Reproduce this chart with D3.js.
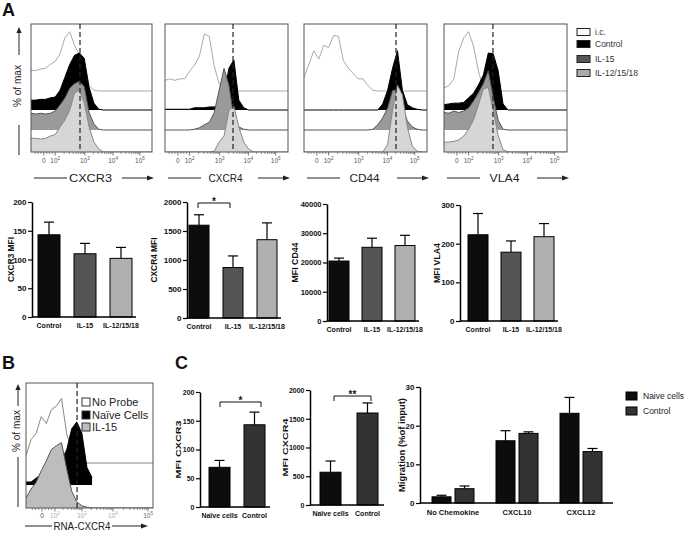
<!DOCTYPE html>
<html><head><meta charset="utf-8">
<script src="https://cdn.jsdelivr.net/npm/d3@7"></script>
<style>
body{margin:0;background:#fff}
svg{display:block}
text{font-family:"Liberation Sans",Arial,sans-serif}
</style>
</head><body>
<svg id="c" width="685" height="533"></svg>
<script>
// ================= DATA =================
// flow cytometry histograms: channel grid (0-1000) and % of max per channel
const channels = [0,40,80,120,160,200,240,280,320,360,400,440,480,520,560,600,640,680,720,760,800,840,880,920,960,1000];
const cxcr3Ic   = [27,27,29,30,35,39,49,70,78,60,47,25,7,1,0];
const cxcr3Ctrl = [13,13,14,14,16,17,26,43,60,72,75,68,30,9,1,0];
const cxcr3Il15 = [22,21,22,21,22,25,33,42,55,61,64,57,23,8,1,0];
const cxcr3Il12 = [18,18,17,18,21,23,33,42,55,78,81,65,33,13,4,0];
const cxcr4Ic   = [14,16,14,16,16,26,34,46,75,72,33,10,1,0];
const cxcr4Ctrl = [1,1,1,1,1,1,3,3,3,4,4,7,20,55,66,13,3,0];
const cxcr4Il15 = [0,0,0,0,0,0,1,3,7,10,23,52,81,59,16,4,1,0];
const cxcr4Il12 = [0,0,0,0,0,0,0,0,0,0,1,13,21,55,60,33,13,4,0];
const cd44Ic    = [18,35,53,42,60,57,73,72,40,30,23,16,16,7,1,0];
const cd44Ctrl  = [0,0,0,0,0,0,0,0,0,0,0,0,0,0,0,0,8,26,55,78,26,7,3,1,0];
const cd44Il15  = [0,0,0,0,0,0,0,0,0,0,0,0,0,0,1,7,16,29,52,53,31,12,4,1,0];
const cd44Il12  = [0,0,0,0,0,0,0,0,0,0,0,0,0,0,0,0,0,10,55,88,75,33,8,1,0];
const vla4Ic    = [4,7,16,52,70,78,59,26,4,0];
const vla4Ctrl  = [7,8,9,9,10,16,22,33,46,75,74,52,8,0];
const vla4Il15  = [23,22,25,23,25,29,38,49,61,78,43,13,1,0];
const vla4Il12  = [13,13,14,16,21,30,42,62,83,85,55,22,3,0];
const rnaNoProbe = [10,31,39,61,52,70,75,85,39,17,3,0];
const rnaNaive   = [4,4,9,14,16,22,26,33,46,74,83,68,23,10];
const rnaIl15    = [13,25,34,49,62,77,82,86,52,22,8,3,1,0];
const histTitles = ["CXCR3","CXCR4","CD44","VLA4"];
const gateChannels = [405,553,748,398];
const gateChannelB = 402;
const tickChannelsA = [105,200,445,678,900];
const tickChannelsB = [126,228,441,685,961];
const tickLabels = ["0","10^2","10^3","10^4","10^5"];
const legendA = ["i.c.","Control","IL-15","IL-12/15/18"];
const legendB = ["No Probe","Naïve Cells","IL-15"];

// bar charts panel A
const barCats = ["Control","IL-15","IL-12/15/18"];
const cxcr3Mfi = [143,110,102], cxcr3Sem = [22,18,19];
const cxcr4Mfi = [1600,870,1350], cxcr4Sem = [180,200,290];
const cd44Mfi  = [20500,25200,25800], cd44Sem = [1000,3100,3500];
const vla4Mfi  = [223,178,218], vla4Sem = [55,29,34];

// panel C
const cCats = ["Naïve cells","Control"];
const cCxcr3 = [69,143], cCxcr3Sem = [12,22];
const cCxcr4 = [570,1600], cCxcr4Sem = [195,175];
const migCats = ["No Chemokine","CXCL10","CXCL12"];
const migSeries = ["Naive cells","Control"];
const migNaive = [1.6,16.1,23.2], migNaiveSem = [0.4,2.6,4.1];
const migControl = [3.7,18.0,13.3], migControlSem = [0.7,0.4,0.8];

// ================= DRAWING =================
const svg = d3.select("#c");
const hScale = d3.scaleLinear().domain([0,100]).range([0,76]);
let clipN = 0;

function arrowUp(x, yTop, yBot){
  svg.append("line").attr("x1",x).attr("x2",x).attr("y1",yBot).attr("y2",yTop+5).attr("stroke","#222").attr("stroke-width",1);
  svg.append("path").attr("d",`M${x-2.6},${yTop+6}L${x+2.6},${yTop+6}L${x},${yTop}Z`).attr("fill","#222");
}
function arrowRight(y, xL, xR){
  svg.append("line").attr("x1",xL).attr("x2",xR-5).attr("y1",y).attr("y2",y).attr("stroke","#222").attr("stroke-width",1);
  svg.append("path").attr("d",`M${xR-7},${y-2.6}L${xR-7},${y+2.6}L${xR},${y}Z`).attr("fill","#222");
}
function hline(y, xL, xR){
  svg.append("line").attr("x1",xL).attr("x2",xR).attr("y1",y).attr("y2",y).attr("stroke","#222").attr("stroke-width",1);
}
function vline(x, yT, yB){
  svg.append("line").attr("x1",x).attr("x2",x).attr("y1",yT).attr("y2",yB).attr("stroke","#222").attr("stroke-width",1);
}
function tickLabel(g, x, y, lab, color){
  const parts = lab.split("^");
  const t = g.append("text").attr("x",x).attr("y",y).attr("text-anchor","middle")
    .attr("font-size",6.5).attr("fill",color);
  t.append("tspan").text(parts[0]);
  if(parts[1]) t.append("tspan").attr("dy",-3).attr("font-size",4.5).text(parts[1]);
}

function drawHist(p){
  const g = svg.append("g");
  const xs = d3.scaleLinear().domain([0,1000]).range([p.x0,p.x1]);
  const id = "clip"+(clipN++);
  svg.append("clipPath").attr("id",id).append("rect")
    .attr("x",p.x0).attr("y",p.y0).attr("width",p.x1-p.x0).attr("height",p.y1-p.y0);
  const cg = g.append("g").attr("clip-path",`url(#${id})`);
  p.curves.forEach((vals,i)=>{
    const base = p.bases[i], st = p.styles[i];
    const pts = vals.map((v,j)=>[channels[j],v]);
    const area = d3.area().x(d=>xs(d[0])).y0(base).y1(d=>base-hScale(d[1]));
    cg.append("path").attr("d",area(pts)).attr("fill",st.fill);
    const line = d3.line().x(d=>xs(d[0])).y(d=>base-hScale(d[1]));
    cg.append("path").attr("d",line(pts)).attr("fill","none").attr("stroke",st.stroke).attr("stroke-width",1);
    if(st.extend) cg.append("line").attr("x1",xs(channels[vals.length-1])).attr("x2",p.x1)
      .attr("y1",base).attr("y2",base).attr("stroke",st.stroke).attr("stroke-width",1);
  });
  g.append("rect").attr("x",p.x0).attr("y",p.y0).attr("width",p.x1-p.x0).attr("height",p.y1-p.y0)
    .attr("fill","none").attr("stroke","#555").attr("stroke-width",1);
  g.append("line").attr("x1",xs(p.gate)).attr("x2",xs(p.gate)).attr("y1",p.y0).attr("y2",p.y1)
    .attr("stroke","#222").attr("stroke-width",1.2).attr("stroke-dasharray","5,3");
  const t = p.ticks;
  const minor = [];
  for(let k=1;k<=3;k++) minor.push(t[0]-(t[1]-t[0])*k/4);
  for(let k=1;k<4;k++) minor.push(t[0]+(t[1]-t[0])*k/4);
  for(let d=1; d<4; d++) for(let k=2;k<10;k++) minor.push(t[d]+(t[d+1]-t[d])*Math.log10(k));
  minor.forEach(c=>{ if(c>0 && c<1000) g.append("line").attr("x1",xs(c)).attr("x2",xs(c)).attr("y1",p.y1).attr("y2",p.y1+2).attr("stroke","#666").attr("stroke-width",0.7); });
  t.forEach((c,i)=>{
    g.append("line").attr("x1",xs(c)).attr("x2",xs(c)).attr("y1",p.y1).attr("y2",p.y1+3.5).attr("stroke","#555").attr("stroke-width",0.8);
    tickLabel(g, xs(c), p.y1+p.tickDy, tickLabels[i], p.tickColors ? p.tickColors[i] : "#555");
  });
  svg.append("text").attr("x",p.titleX).attr("y",p.titleY).attr("dy","0.35em").attr("text-anchor","middle")
    .attr("font-size",p.titleSize).attr("fill","#222")
    .attr("textLength",p.titleLen).attr("lengthAdjust","spacingAndGlyphs").text(p.title);
  hline(p.titleY, p.lineL[0], p.lineL[1]);
  arrowRight(p.titleY, p.arrowR[0], p.arrowR[1]);
}

function yLabelHist(x, cy, arrTop, arrBot, lowTop, lowBot){
  svg.append("text").attr("transform",`translate(${x},${cy}) rotate(-90)`).attr("dy","0.35em")
    .attr("text-anchor","middle").attr("font-size",10).attr("fill","#222")
    .attr("textLength",42).attr("lengthAdjust","spacingAndGlyphs").text("% of max");
  arrowUp(x+2, arrTop, arrBot);
  vline(x+2, lowTop, lowBot);
}

// ---- Panel A histograms ----
const stylesA = [
  {fill:"#fff", stroke:"#aaa", extend:true},
  {fill:"#000", stroke:"#000", extend:true},
  {fill:"#9a9a9a", stroke:"#555", extend:true},
  {fill:"#d6d6d6", stroke:"#888", extend:true}
];
const histCurves = [
  [cxcr3Ic,cxcr3Ctrl,cxcr3Il15,cxcr3Il12],
  [cxcr4Ic,cxcr4Ctrl,cxcr4Il15,cxcr4Il12],
  [cd44Ic,cd44Ctrl,cd44Il15,cd44Il12],
  [vla4Ic,vla4Ctrl,vla4Il15,vla4Il12]
];
const boxX = [[31,152],[165,288],[304,427],[444,567]];
const titleLens = [43,34,30,30];
histTitles.forEach((ttl,i)=>{
  const [x0,x1] = boxX[i];
  drawHist({x0,x1,y0:24,y1:152,bases:[91,110,130,152],curves:histCurves[i],styles:stylesA,
    gate:gateChannels[i],ticks:tickChannelsA,tickDy:11,title:ttl,titleX:(x0+x1)/2-1,titleY:178,
    titleSize:11,titleLen:titleLens[i],lineL:[x0+3,x0+36],arrowR:[x1-30,x1+2]});
});
yLabelHist(17, 86, 27, 55, 125, 155);

const legAColors = ["#fff","#000","#555","#aaa"];
const legAY = [32,44,59,73];
legendA.forEach((l,i)=>{
  svg.append("rect").attr("x",577).attr("y",legAY[i]-3.5).attr("width",13).attr("height",7)
    .attr("fill",legAColors[i]).attr("stroke","#222").attr("stroke-width",1);
  svg.append("text").attr("x",595).attr("y",legAY[i]).attr("dy","0.35em").attr("font-size",8.5)
    .attr("fill","#333").text(l);
});

// ---- Bar charts ----
function barChart(c){
  const g = svg.append("g");
  const y = d3.scaleLinear().domain([0,c.max]).range([c.bottom,c.top]);
  const n = c.cats.length;
  const st = (c.b - c.a - c.bw)/(n-1);
  const x = d3.scaleBand().domain(c.cats).range([c.a,c.b]).paddingInner(1-c.bw/st).paddingOuter(0);
  c.cats.forEach((cat,i)=>{
    const v = c.values[i], e = c.sems[i];
    const cx = x(cat)+x.bandwidth()/2;
    g.append("line").attr("x1",cx).attr("x2",cx).attr("y1",y(v)).attr("y2",y(v+e)).attr("stroke","#000").attr("stroke-width",1.2);
    g.append("line").attr("x1",cx-5).attr("x2",cx+5).attr("y1",y(v+e)).attr("y2",y(v+e)).attr("stroke","#000").attr("stroke-width",1.2);
    g.append("rect").attr("x",x(cat)).attr("y",y(v)).attr("width",x.bandwidth()).attr("height",y(0)-y(v))
      .attr("fill",c.colors[i]).attr("stroke","#000").attr("stroke-width",1);
    g.append("text").attr("x",cx).attr("y",c.bottom+11).attr("text-anchor","middle")
      .attr("font-size",c.catSize||7).attr("font-weight","bold").attr("fill","#111").text(cat);
  });
  axisY(g, y, c);
  g.append("line").attr("x1",c.axisX).attr("x2",c.endX).attr("y1",c.bottom).attr("y2",c.bottom).attr("stroke","#000").attr("stroke-width",1.5);
  return {x,y,g};
}
function axisY(g, y, c){
  const ax = g.append("g").attr("transform",`translate(${c.axisX},0)`)
    .call(d3.axisLeft(y).tickValues(d3.range(0,c.max+1,c.step)).tickSize(4).tickSizeOuter(0).tickPadding(1.5).tickFormat(d3.format("d")));
  ax.select(".domain").attr("stroke","#000").attr("stroke-width",1.5);
  ax.selectAll(".tick line").attr("stroke","#000").attr("stroke-width",1.2);
  ax.selectAll(".tick text").attr("font-size",c.tickSize||8).attr("font-weight","bold").attr("fill","#111")
    .attr("font-family",'"Liberation Sans",Arial,sans-serif');
  g.append("text").attr("transform",`translate(${c.titleX},${(c.top+c.bottom)/2}) rotate(-90)`).attr("dy","0.35em")
    .attr("text-anchor","middle").attr("font-size",c.titleSize||8.5).attr("font-weight","bold").attr("fill","#111")
    .attr("textLength",c.titleLen).attr("lengthAdjust","spacingAndGlyphs").text(c.title);
}
function bracket(x1,x2,yb,label){
  svg.append("path").attr("d",`M${x1},${yb+5}V${yb}H${x2}V${yb+5}`).attr("fill","none").attr("stroke","#111").attr("stroke-width",1);
  svg.append("text").attr("x",(x1+x2)/2).attr("y",yb+2).attr("text-anchor","middle").attr("font-size",10)
    .attr("font-weight","bold").attr("fill","#111").text(label);
}

const barColorsA = ["#0d0d0d","#555555","#b0b0b0"];
barChart({axisX:32,top:202,bottom:317,max:200,step:50,a:38,b:132,bw:22,endX:136,cats:barCats,values:cxcr3Mfi,sems:cxcr3Sem,colors:barColorsA,title:"CXCR3 MFI",titleX:11,titleLen:45});
barChart({axisX:187,top:202,bottom:318,max:2000,step:500,a:189,b:277,bw:20,endX:281,cats:barCats,values:cxcr4Mfi,sems:cxcr4Sem,colors:barColorsA,title:"CXCR4 MFI",titleX:154,titleLen:45});
bracket(198,230,203,"*");
barChart({axisX:327,top:204,bottom:321,max:40000,step:10000,a:329,b:415,bw:20,endX:419,cats:barCats,values:cd44Mfi,sems:cd44Sem,colors:barColorsA,title:"MFI CD44",titleX:295,titleLen:40,tickSize:7.5});
barChart({axisX:460,top:205,bottom:321,max:300,step:100,a:468,b:554,bw:20,endX:558,cats:barCats,values:vla4Mfi,sems:vla4Sem,colors:barColorsA,title:"MFI VLA4",titleX:437,titleLen:40});

// ---- Panel B histogram ----
const stylesB = [
  {fill:"#fff", stroke:"#888", extend:true},
  {fill:"#000", stroke:"#000", extend:false},
  {fill:"#bdbdbd", stroke:"#555", extend:true}
];
drawHist({x0:26,x1:153,y0:383,y1:508,bases:[463,485,508],curves:[rnaNoProbe,rnaNaive,rnaIl15],styles:stylesB,
  gate:gateChannelB,ticks:tickChannelsB,tickDy:10,tickColors:["#555","#aaa","#aaa","#aaa","#666"],
  title:"RNA-CXCR4",titleX:82,titleY:526,titleSize:10,titleLen:57,lineL:[25,52],arrowR:[112,148]});
yLabelHist(16, 431, 384, 406, 457, 507);
const legBColors = ["#fff","#000","#bdbdbd"];
const legBY = [402,415,427];
legendB.forEach((l,i)=>{
  svg.append("rect").attr("x",82).attr("y",legBY[i]-4).attr("width",8).attr("height",8)
    .attr("fill",legBColors[i]).attr("stroke","#333").attr("stroke-width",1);
  svg.append("text").attr("x",92).attr("y",legBY[i]).attr("dy","0.35em").attr("font-size",11)
    .attr("fill","#222").text(l);
});

// ---- Panel C ----
const barColorsC = ["#0d0d0d","#333333"];
barChart({axisX:200,top:392,bottom:507,max:200,step:50,a:209,b:265,bw:21,endX:270,cats:cCats,values:cCxcr3,sems:cCxcr3Sem,colors:barColorsC,title:"MFI CXCR3",titleX:178,titleLen:58,catSize:7,tickSize:7,titleSize:7.5});
bracket(220,261,402,"*");
barChart({axisX:310,top:390,bottom:505,max:2000,step:500,a:320,b:378,bw:21,endX:384,cats:cCats,values:cCxcr4,sems:cCxcr4Sem,colors:barColorsC,title:"MFI CXCR4",titleX:285,titleLen:58,catSize:7,tickSize:7,titleSize:7.5});
bracket(334,371,396,"**");

(function(){
  const c = {axisX:420,top:387,bottom:503,max:30,step:10,title:"Migration (%of input)",titleX:402,titleLen:94,tickSize:8};
  const g = svg.append("g");
  const y = d3.scaleLinear().domain([0,c.max]).range([c.bottom,c.top]);
  const x0 = d3.scaleBand().domain(migCats).range([432,602]).paddingInner(1-42/64).paddingOuter(0);
  const x1 = d3.scaleBand().domain(migSeries).range([0,x0.bandwidth()]).paddingInner(1-19/23).paddingOuter(0);
  const vals = [migNaive, migControl], sems = [migNaiveSem, migControlSem];
  const cols = ["#0d0d0d","#333333"];
  migCats.forEach((cat,i)=>{
    migSeries.forEach((s,k)=>{
      const v = vals[k][i], e = sems[k][i];
      const bx = x0(cat)+x1(s), cx = bx + x1.bandwidth()/2;
      g.append("line").attr("x1",cx).attr("x2",cx).attr("y1",y(v)).attr("y2",y(v+e)).attr("stroke","#000").attr("stroke-width",1.2);
      g.append("line").attr("x1",cx-5).attr("x2",cx+5).attr("y1",y(v+e)).attr("y2",y(v+e)).attr("stroke","#000").attr("stroke-width",1.2);
      g.append("rect").attr("x",bx).attr("y",y(v)).attr("width",x1.bandwidth()).attr("height",y(0)-y(v))
        .attr("fill",cols[k]).attr("stroke","#000").attr("stroke-width",1);
    });
    g.append("text").attr("x",x0(cat)+x0.bandwidth()/2).attr("y",c.bottom+12).attr("text-anchor","middle")
      .attr("font-size",7.5).attr("font-weight","bold").attr("fill","#111").text(cat);
  });
  axisY(g, y, c);
  g.append("line").attr("x1",c.axisX).attr("x2",613).attr("y1",c.bottom).attr("y2",c.bottom).attr("stroke","#000").attr("stroke-width",1.5);
  const legY = [396,411];
  migSeries.forEach((s,k)=>{
    svg.append("rect").attr("x",626).attr("y",legY[k]-4).attr("width",11).attr("height",8).attr("fill",cols[k]).attr("stroke","#000").attr("stroke-width",1);
    svg.append("text").attr("x",643).attr("y",legY[k]).attr("dy","0.35em").attr("font-size",8.5).attr("fill","#222").text(s);
  });
})();

[["A",2,16],["B",2,369],["C",175,369]].forEach(([l,x,y])=>{
  svg.append("text").attr("x",x).attr("y",y).attr("font-size",18).attr("font-weight","bold").attr("fill","#111").text(l);
});
</script>
</body></html>
